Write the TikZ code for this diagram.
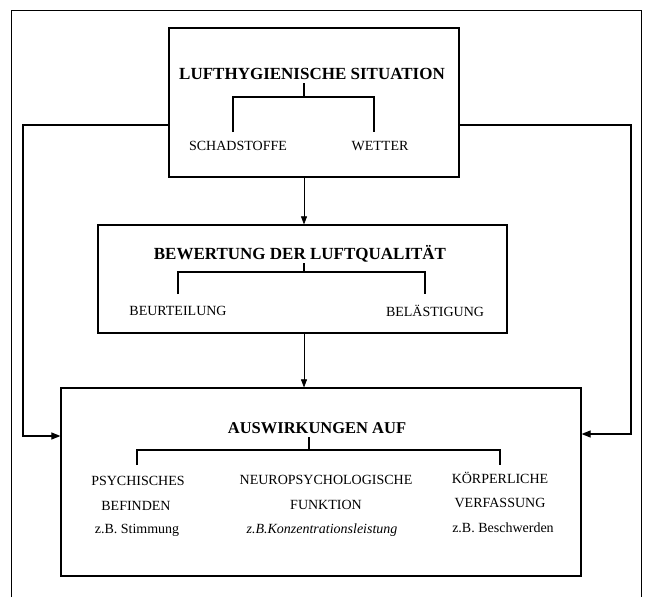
\documentclass[tikz,border=0pt]{standalone}
\usepackage{fontspec}
\setmainfont{Liberation Serif}
\usetikzlibrary{arrows.meta}
\tikzset{
  box/.style={draw, line width=1.2pt, inner sep=0pt},
  ttl/.style={font=\fontsize{17}{20}\selectfont\bfseries, inner sep=0pt},
  lab/.style={font=\fontsize{14}{16}\selectfont, inner sep=0pt},
  tree/.style={line width=1.4pt},
  side/.style={line width=1.1pt, -{Triangle[length=9pt,width=7pt]}},
  down/.style={line width=0.6pt, -{Triangle[length=8pt,width=6pt]}},
  frame/.style={line width=0.8pt}
}
\begin{document}
\begin{tikzpicture}[x=1pt,y=-1pt]
\useasboundingbox (0,0) rectangle (647,597);
% outer frame
\draw[frame] (11,597) -- (11,10) -- (641,10) -- (641,597);

% boxes
\node[box, minimum width=290pt, minimum height=149pt] (top) at (314,102.5) {};
\node[box, minimum width=409pt, minimum height=108pt] (mid) at (302.5,279) {};
\node[box, minimum width=520pt, minimum height=188pt] (bot) at (321,482) {};

% top box content
\node[ttl] (t1) at (312,74) {LUFTHYGIENISCHE SITUATION};
\node[lab] (schad) at (238,146) {SCHADSTOFFE};
\node[lab] (wet) at (380,146) {WETTER};
\coordinate (t1s) at (304,83);
\coordinate (t1j) at (304,97);
\coordinate (schadl) at (233,132);
\coordinate (wetl) at (374,132);
\draw[tree] (t1s) -- (t1j);
\draw[tree] (schadl) |- (t1j) -| (wetl);

% middle box content
\node[ttl] (t2) at (300,254) {BEWERTUNG DER LUFTQUALITÄT};
\node[lab] (beur) at (178,311) {BEURTEILUNG};
\node[lab] (bel) at (435,311) {BELÄSTIGUNG};
\coordinate (t2s) at (304,263);
\coordinate (t2j) at (304,272);
\coordinate (beurl) at (178,294);
\coordinate (bell) at (425,294);
\draw[tree] (t2s) -- (t2j);
\draw[tree] (beurl) |- (t2j) -| (bell);

% bottom box content
\node[ttl, font=\fontsize{16.5}{20}\selectfont\bfseries] (t3) at (317,428) {AUSWIRKUNGEN AUF};
\coordinate (t3s) at (309,437);
\coordinate (t3j) at (309,450);
\coordinate (c1l) at (137,465);
\coordinate (c3l) at (500,465);
\draw[tree] (t3s) -- (t3j);
\draw[tree] (c1l) |- (t3j) -| (c3l);

\node[lab] (p1) at (138,481) {PSYCHISCHES};
\node[lab] (p2) at (136,506) {BEFINDEN};
\node[lab] (p3) at (137,530) {z.B. Stimmung};
\node[lab] (n1) at (326,480) {NEUROPSYCHOLOGISCHE};
\node[lab] (n2) at (326,505) {FUNKTION};
\node[lab] (n3) at (322,530) {\itshape z.B.Konzentrationsleistung};
\node[lab] (k1) at (500,478) {KÖRPERLICHE};
\node[lab] (k2) at (500,503) {VERFASSUNG};
\node[lab] (k3) at (503,528) {z.B. Beschwerden};

% connectors
\coordinate (lc1) at (23,125);
\coordinate (lc2) at (23,436);
\coordinate (rc1) at (631,125);
\coordinate (rc2) at (631,434);
\draw[side] (top.west |- lc1) -- (lc1) -- (lc2) -- (bot.west |- lc2);
\draw[side] (top.east |- rc1) -- (rc1) -- (rc2) -- (bot.east |- rc2);
\draw[down] (top.south -| t1s) -- (mid.north -| t1s);
\draw[down] (mid.south -| t1s) -- (bot.north -| t1s);
\end{tikzpicture}
\end{document}
